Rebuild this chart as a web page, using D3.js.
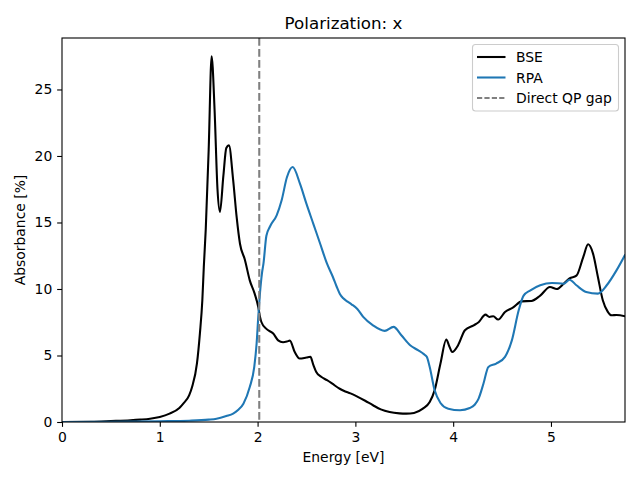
<!DOCTYPE html>
<html><head><meta charset="utf-8">
<script src="https://cdn.jsdelivr.net/npm/d3@7"></script>
<style>body{margin:0;background:#fff}svg{display:block}text{font-family:"DejaVu Sans",sans-serif}</style>
</head><body><svg id="c" width="640" height="480"></svg>
<script>
const bseE = [0,0.3,0.5,0.7,0.8,0.9,1.0,1.1,1.2,1.24,1.3,1.33,1.38,1.41,1.435,1.45,1.47,1.5,1.53,1.56,1.59,1.615,1.65,1.68,1.707,1.75,1.786,1.82,1.87,1.92,1.97,2.007,2.025,2.04,2.09,2.16,2.21,2.26,2.30,2.33,2.38,2.43,2.50,2.54,2.57,2.60,2.65,2.71,2.76,2.84,2.88,2.95,3.01,3.1,3.18,3.26,3.35,3.45,3.52,3.60,3.69,3.76,3.81,3.87,3.93,3.96,3.99,4.05,4.12,4.21,4.26,4.33,4.37,4.41,4.46,4.53,4.61,4.70,4.80,4.89,4.99,5.06,5.13,5.19,5.26,5.33,5.38,5.43,5.48,5.53,5.58,5.62,5.67,5.76];
const bseV = [0,0.02,0.07,0.13,0.18,0.25,0.38,0.63,1.05,1.38,2.0,2.63,4.4,6.65,9.15,11.65,14.5,20.5,27.5,23.5,17.5,15.8,18.5,20.6,20.8,18.2,15.4,13.4,12.2,10.65,9.65,8.65,7.9,7.5,7.0,6.65,6.14,6.0,6.05,6.12,5.26,4.77,4.85,4.9,4.3,3.76,3.4,3.14,2.9,2.5,2.35,2.15,1.95,1.6,1.26,0.95,0.75,0.65,0.63,0.68,1.0,1.5,2.38,4.4,6.2,5.7,5.26,5.77,6.9,7.27,7.5,8.07,7.9,7.95,7.7,8.27,8.6,9.07,9.1,9.5,10.15,10.0,10.4,10.8,11.0,12.4,13.36,12.66,10.9,9.15,8.3,8.02,8.05,7.95];
const rpaE = [0,0.5,1.0,1.3,1.5,1.58,1.68,1.75,1.8,1.855,1.92,1.966,1.99,2.007,2.024,2.045,2.06,2.09,2.127,2.195,2.246,2.30,2.359,2.434,2.50,2.57,2.64,2.71,2.77,2.81,2.84,2.876,2.92,2.96,3.02,3.08,3.18,3.30,3.39,3.47,3.56,3.64,3.70,3.73,3.76,3.81,3.87,3.95,4.07,4.17,4.22,4.26,4.31,4.36,4.44,4.53,4.60,4.67,4.72,4.79,4.89,5.01,5.13,5.19,5.26,5.36,5.48,5.57,5.67,5.76];
const rpaV = [0,0.02,0.06,0.1,0.18,0.25,0.45,0.63,0.9,1.38,2.63,4.14,5.9,7.9,9.65,11.2,11.9,14.0,14.7,15.54,16.67,18.4,19.17,17.9,16.4,14.9,13.4,11.9,10.9,10.15,9.65,9.3,9.05,8.85,8.5,7.9,7.27,6.85,7.15,6.52,5.77,5.4,5.1,4.9,4.14,2.4,1.43,1.0,0.88,1.05,1.3,1.76,2.89,4.14,4.39,4.9,6.14,8.4,9.5,9.9,10.28,10.45,10.4,10.7,10.28,9.77,9.65,10.28,11.4,12.6];
const gapE = 2.017;
const xTicks = [0,1,2,3,4,5];
const yTicks = [0,5,10,15,20,25];
const labels = ["BSE","RPA","Direct QP gap"];

const svg = d3.select("#c");
const m = {l:62, r:625, t:38, b:422};
const x = d3.scaleLinear().domain([0,5.757]).range([m.l,m.r]);
const y = d3.scaleLinear().domain([0,28.87]).range([m.b,m.t]);

svg.append("clipPath").attr("id","cp").append("rect")
  .attr("x",m.l).attr("y",m.t).attr("width",m.r-m.l).attr("height",m.b-m.t);
const g = svg.append("g").attr("clip-path","url(#cp)");
const line = d3.line().x(d=>x(d[0])).y(d=>y(d[1])).curve(d3.curveMonotoneX);
g.append("path").datum(bseE.map((e,i)=>[e,bseV[i]])).attr("d",line)
  .attr("fill","none").attr("stroke","#000").attr("stroke-width",2.08).attr("stroke-linejoin","round");
g.append("path").datum(rpaE.map((e,i)=>[e,rpaV[i]])).attr("d",line)
  .attr("fill","none").attr("stroke","#1f77b4").attr("stroke-width",2.08).attr("stroke-linejoin","round");
g.append("line").attr("x1",x(gapE)).attr("x2",x(gapE)).attr("y1",m.t).attr("y2",m.b)
  .attr("stroke","#808080").attr("stroke-width",2.08).attr("stroke-dasharray","7.7,3.3");

const xa = svg.append("g").attr("transform",`translate(0,${m.b})`)
  .call(d3.axisBottom(x).tickValues(xTicks).tickFormat(d3.format("d")).tickSize(4.86).tickPadding(4.86));
const ya = svg.append("g").attr("transform",`translate(${m.l},0)`)
  .call(d3.axisLeft(y).tickValues(yTicks).tickFormat(d3.format("d")).tickSize(4.86).tickPadding(4.86));
[xa,ya].forEach(a=>{a.select(".domain").remove();
  a.selectAll("line").attr("stroke","#000").attr("stroke-width",1.1);
  a.selectAll("text").attr("font-size","13.9px").attr("fill","#000").style("font-family","DejaVu Sans");});

svg.append("rect").attr("x",m.l).attr("y",m.t).attr("width",m.r-m.l).attr("height",m.b-m.t)
  .attr("fill","none").attr("stroke","#000").attr("stroke-width",1.1);

svg.append("text").attr("x",(m.l+m.r)/2).attr("y",29).attr("text-anchor","middle")
  .attr("font-size","16.7px").text("Polarization: x");
svg.append("text").attr("x",(m.l+m.r)/2).attr("y",462).attr("text-anchor","middle")
  .attr("font-size","13.9px").text("Energy [eV]");
svg.append("text").attr("transform",`translate(25,${(m.t+m.b)/2}) rotate(-90)`).attr("text-anchor","middle")
  .attr("font-size","13.9px").text("Absorbance [%]");

const lg = svg.append("g");
lg.append("rect").attr("x",472.5).attr("y",44.5).attr("width",146).attr("height",66.5).attr("rx",3)
  .attr("fill","#fff").attr("fill-opacity",0.8).attr("stroke","#ccc").attr("stroke-width",1.1);
const styles = [{c:"#000",d:null},{c:"#1f77b4",d:null},{c:"#808080",d:"5.2,2.2"}];
labels.forEach((t,i)=>{
  const yy = 57 + i*20.5;
  lg.append("line").attr("x1",477).attr("x2",505.5).attr("y1",yy).attr("y2",yy)
    .attr("stroke",styles[i].c).attr("stroke-width",2.08).attr("stroke-dasharray",styles[i].d);
  lg.append("text").attr("x",516).attr("y",yy+5).attr("font-size","13.9px").text(t);
});
</script></body></html>
